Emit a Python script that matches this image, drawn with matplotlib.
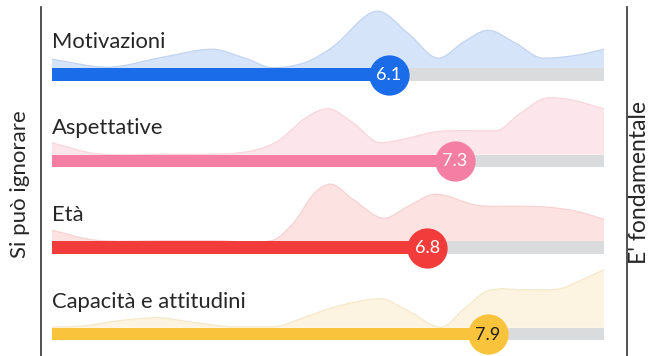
import numpy as np
import matplotlib.pyplot as plt
from matplotlib.path import Path
from matplotlib.patches import PathPatch

# Data
categories = ['Motivazioni', 'Aspettative', 'Età', 'Capacità e attitudini']
scores = [6.1, 7.3, 6.8, 7.9]

# distribution outline (x on 0-10 scale, height in px above the bar)
motiv_x = [0, 1.0, 2.0, 2.9, 3.5, 4.0, 4.6, 5.1, 5.9, 6.45, 7.0, 7.45, 7.9, 8.4, 8.9, 9.5, 10]
motiv_h = [9, 1, 11, 19, 10, 0.5, 6, 22, 57, 35, 10, 26, 38, 25, 10, 13, 19]
aspet_x = [0, 0.8, 2.0, 3.2, 3.7, 4.1, 4.6, 5.0, 5.45, 5.95, 6.4, 6.95, 7.5, 8.05, 8.45, 9.0, 9.4, 10]
aspet_h = [12, 1, 0.5, 1, 5, 14, 37, 46, 32, 12, 16, 23, 24, 24, 40, 57, 55, 46]
eta_x = [0, 0.8, 2.0, 3.0, 4.0, 4.4, 4.75, 5.05, 5.45, 6.02, 6.45, 6.95, 7.7, 8.5, 9.0, 9.5, 10]
eta_h = [11, 1, 0.5, 0.5, 1, 20, 48, 57, 42, 23, 35, 47, 36, 35, 34, 30, 22]
capac_x = [0, 0.6, 1.2, 1.9, 2.6, 3.3, 4.0, 4.6, 5.2, 5.95, 6.45, 7.05, 7.45, 7.9, 8.6, 9.2, 9.6, 10]
capac_h = [0.5, 2, 7, 10, 5, 1, 1, 11, 22, 29, 17, 0.5, 18, 37, 38, 39, 48, 58]

dist_x = [motiv_x, aspet_x, eta_x, capac_x]
dist_h = [motiv_h, aspet_h, eta_h, capac_h]

bar_colors = ['#1b6ce8', '#f57fa4', '#f23c3c', '#f9c33b']
fill_colors = ['#d6e4f9', '#fde6eb', '#fde2e2', '#fcf4e0']
edge_colors = ['#c2d4f1', '#f8d6dd', '#f7d2d2', '#f5e9cb']
num_colors = ['white', 'white', 'white', '#1e1e1e']

FONT = ['Lato', 'DejaVu Sans']
TEXT = '#262626'


def hermite_pts(xs, ys):
    """Smooth outline through the read points (cubic bezier, no overshoot)."""
    xs = np.asarray(xs, float)
    ys = np.asarray(ys, float)
    n = len(xs)
    m = np.zeros(n)
    for i in range(n):
        if i == 0:
            m[i] = (ys[1] - ys[0]) / (xs[1] - xs[0])
        elif i == n - 1:
            m[i] = (ys[-1] - ys[-2]) / (xs[-1] - xs[-2])
        else:
            d0 = ys[i] - ys[i - 1]
            d1 = ys[i + 1] - ys[i]
            if d0 * d1 <= 0:
                m[i] = 0
            else:
                m[i] = (ys[i + 1] - ys[i - 1]) / (xs[i + 1] - xs[i - 1])
    verts = [(xs[0], ys[0])]
    codes = [Path.MOVETO]
    for i in range(n - 1):
        dx = xs[i + 1] - xs[i]
        verts += [(xs[i] + dx / 3, ys[i] + m[i] * dx / 3),
                  (xs[i + 1] - dx / 3, ys[i + 1] - m[i + 1] * dx / 3),
                  (xs[i + 1], ys[i + 1])]
        codes += [Path.CURVE4] * 3
    return verts, codes


fig = plt.figure(figsize=(6.49, 3.56), dpi=100)
ax = fig.add_axes([0, 0, 1, 1])
px = 55.2  # pixels per score unit
ax.set_xlim(-52 / px, (649 - 52) / px)
ax.set_ylim(356, 0)
ax.axis('off')

row_centers = [74.5, 161, 247.5, 334]
bar_h = 12.5

for i, cat in enumerate(categories):
    yc = row_centers[i]
    base = yc - bar_h / 2
    ys = [base - h for h in dist_h[i]]
    verts, codes = hermite_pts(dist_x[i], ys)
    # filled area
    fverts = verts + [(dist_x[i][-1], base), (dist_x[i][0], base), verts[0]]
    fcodes = codes + [Path.LINETO, Path.LINETO, Path.CLOSEPOLY]
    ax.add_patch(PathPatch(Path(fverts, fcodes), facecolor=fill_colors[i],
                           edgecolor='none', zorder=1))
    ax.add_patch(PathPatch(Path(verts, codes), facecolor='none',
                           edgecolor=edge_colors[i], lw=0.9, zorder=2))

    # track + value bar
    ax.barh(yc, 10, height=bar_h, left=0, color='#dadbdd', zorder=3)
    ax.barh(yc, scores[i], height=bar_h, left=0, color=bar_colors[i], zorder=4)
    ax.scatter([scores[i]], [yc], s=840, color=bar_colors[i], zorder=5, linewidths=0)
    ax.text(scores[i], yc + 0.5, f'{scores[i]:.1f}', ha='center', va='center',
            fontsize=13, color=num_colors[i], family=FONT, zorder=6)

    ax.text(0, yc - 26.5, cat, ha='left', va='baseline', fontsize=15.8,
            color=TEXT, family=FONT, zorder=6)

# side axes
for xpix in (41, 627):
    xv = (xpix - 52) / px
    ax.plot([xv, xv], [7, 356], color='#333333', lw=1.2, zorder=6)

ax.text((20 - 52) / px, 184, 'Si può ignorare', rotation=90, ha='center', va='center',
        fontsize=16, color=TEXT, family=FONT)
ax.text((640 - 52) / px, 183, "E' fondamentale", rotation=90, ha='center', va='center',
        fontsize=16.5, color=TEXT, family=FONT)

fig.savefig('out.png', dpi=100)
